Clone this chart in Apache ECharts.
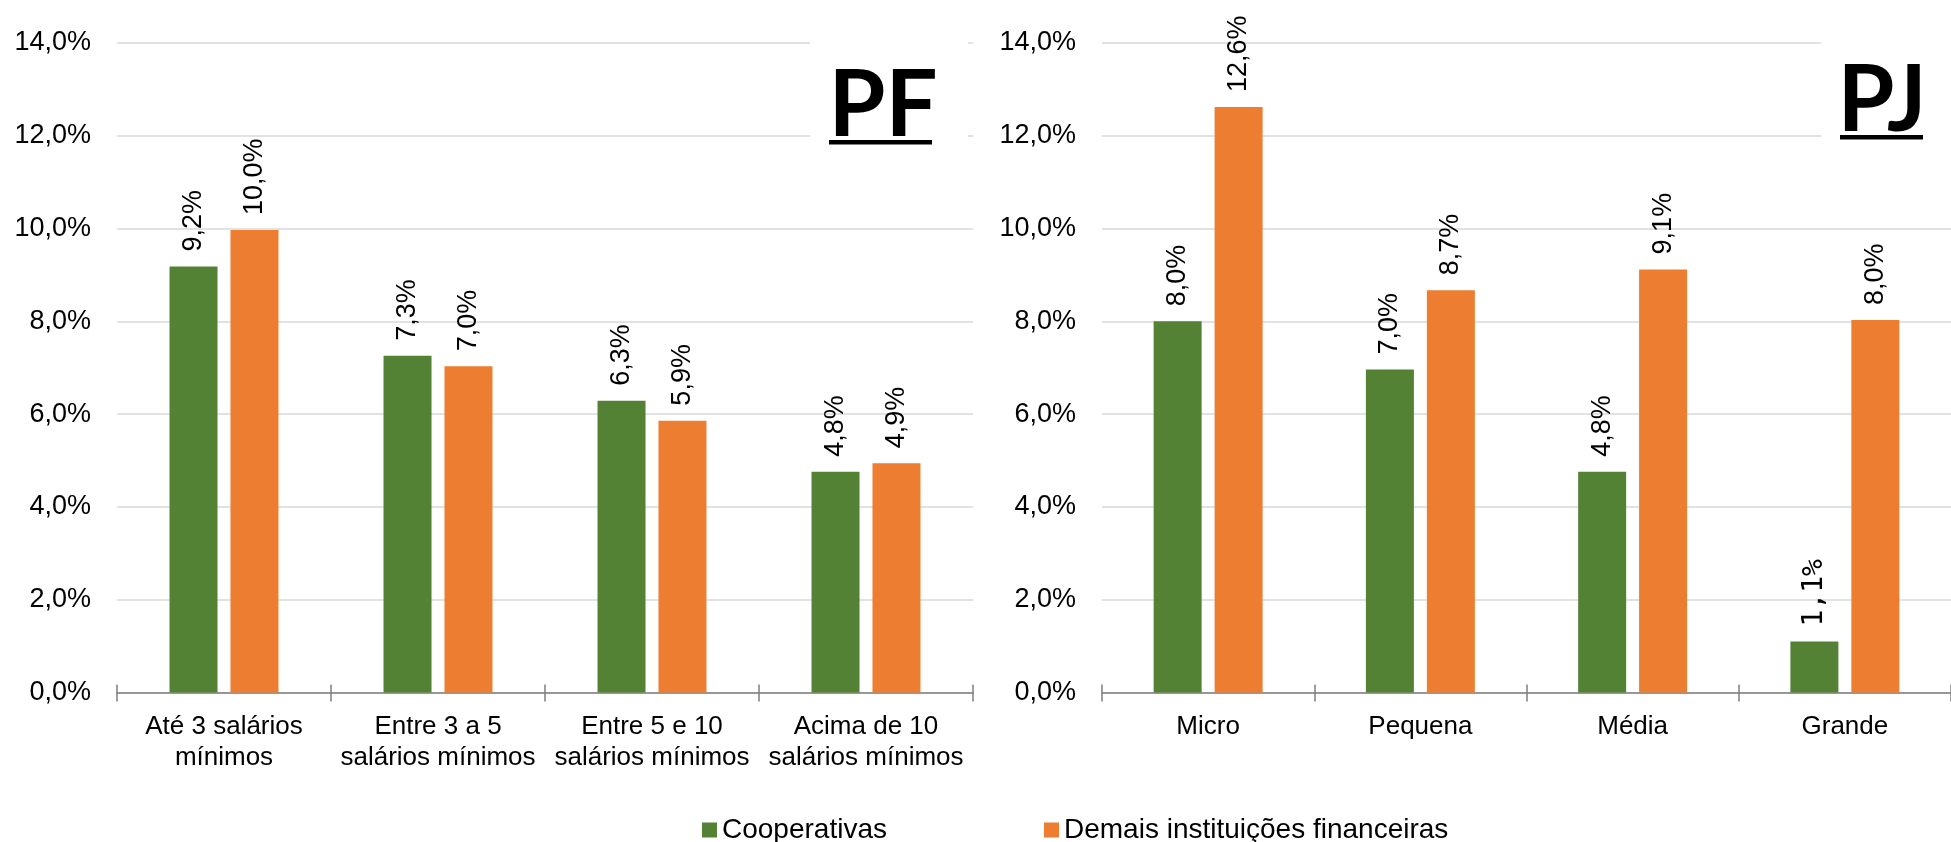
<!DOCTYPE html>
<html>
<head>
<meta charset="utf-8">
<script src="https://cdn.jsdelivr.net/npm/echarts@6/dist/echarts.min.js"></script>
<style>
  html, body { margin: 0; padding: 0; background: #fff; }
  #chart { width: 1951px; height: 842px; }
</style>
</head>
<body>
<div id="chart"></div>
<script>
const pfCategories = ['Até 3 salários\nmínimos', 'Entre 3 a 5\nsalários mínimos', 'Entre 5 e 10\nsalários mínimos', 'Acima de 10\nsalários mínimos'];
const pjCategories = ['Micro', 'Pequena', 'Média', 'Grande'];
const pfCooperativas = [9.18, 7.26, 6.29, 4.76];
const pfDemais = [9.97, 7.03, 5.86, 4.94];
const pjCooperativas = [8.0, 6.96, 4.76, 1.1];
const pjDemais = [12.62, 8.67, 9.12, 8.03];
const yTicks = { min: 0, max: 14, interval: 2 };

const GREEN = '#548235';
const ORANGE = '#ED7D31';
const FONT = '"Liberation Sans", Arial, sans-serif';

const chart = echarts.init(document.getElementById('chart'));

const pct = v => v.toFixed(1).replace('.', ',') + '%';

function barLabel() {
    return {
        show: true,
        position: 'top',
        rotate: 90,
        align: 'left',
        verticalAlign: 'middle',
        distance: 15,
        fontFamily: FONT,
        fontSize: 27,
        color: '#000',
        formatter: p => pct(p.value)
    };
}

function barSeries(name, data, axisIndex, color) {
    return {
        name: name,
        type: 'bar',
        xAxisIndex: axisIndex,
        yAxisIndex: axisIndex,
        data: data,
        barWidth: 48,
        barGap: '27%',
        itemStyle: { color: color },
        label: barLabel()
    };
}

function xAxisFor(gridIndex, data) {
    return {
        type: 'category',
        gridIndex: gridIndex,
        data: data,
        position: 'bottom',
        axisLine: { lineStyle: { color: '#7f7f7f', width: 1.5 } },
        axisTick: { show: true, length: 9, lineStyle: { color: '#7f7f7f', width: 1.5 } },
        axisLabel: {
            fontFamily: FONT, fontSize: 26, color: '#000',
            lineHeight: 31, margin: 19, interval: 0
        }
    };
}

// second axis on the same grid only to draw the upper half of the cross ticks
function innerTickAxis(gridIndex, data) {
    return {
        type: 'category',
        gridIndex: gridIndex,
        data: data,
        position: 'bottom',
        axisLine: { show: false },
        axisLabel: { show: false },
        axisTick: { show: true, inside: true, length: 8, lineStyle: { color: '#7f7f7f', width: 1.5 } }
    };
}

function yAxisFor(gridIndex) {
    return {
        type: 'value',
        gridIndex: gridIndex,
        min: yTicks.min,
        max: yTicks.max,
        interval: yTicks.interval,
        axisLine: { show: false },
        axisTick: { show: false },
        splitLine: { lineStyle: { color: '#d9d9d9', width: 1.5 } },
        axisLabel: {
            fontFamily: FONT, fontSize: 27, color: '#000', margin: 26,
            formatter: v => pct(v)
        }
    };
}

const pjSeriesCoop = barSeries('Cooperativas', pjCooperativas, 1, GREEN);
pjSeriesCoop.label.formatter = p => (p.dataIndex === 3 ? '{mono|' + pct(p.value) + '}' : pct(p.value));
pjSeriesCoop.label.rich = { mono: { fontFamily: '"DejaVu Sans Mono", monospace', fontSize: 28, color: '#000' } };

chart.setOption({
    backgroundColor: '#fff',
    animation: false,
    grid: [
        { left: 117, top: 43, width: 856, height: 649.5 },
        { left: 1102, top: 43, width: 856, height: 649.5 }
    ],
    xAxis: [xAxisFor(0, pfCategories), xAxisFor(1, pjCategories), innerTickAxis(0, pfCategories), innerTickAxis(1, pjCategories)],
    yAxis: [yAxisFor(0), yAxisFor(1)],
    legend: {
        data: ['Cooperativas', 'Demais instituições financeiras'],
        left: 697,
        top: 810,
        itemWidth: 15,
        itemHeight: 15,
        itemGap: 157,
        icon: 'rect',
        textStyle: { fontFamily: FONT, fontSize: 28, color: '#000', lineHeight: 30 }
    },
    graphic: [
        { type: 'rect', z: 100, shape: { x: 810, y: 25, width: 158, height: 140 }, style: { fill: '#fff' } },
        { type: 'text', z: 101, x: 883, y: 106,
          style: { text: 'PF', fontFamily: 'Lato, sans-serif', fontWeight: 'bold', fontSize: 92, fill: '#000', align: 'center', verticalAlign: 'middle' } },
        { type: 'rect', z: 101, shape: { x: 829, y: 140, width: 103, height: 4.5 }, style: { fill: '#000' } },
        { type: 'rect', z: 100, shape: { x: 1821, y: 25, width: 140, height: 140 }, style: { fill: '#fff' } },
        { type: 'text', z: 101, x: 1882, y: 101,
          style: { text: 'PJ', fontFamily: 'Lato, sans-serif', fontWeight: 'bold', fontSize: 92, fill: '#000', align: 'center', verticalAlign: 'middle' } },
        { type: 'rect', z: 101, shape: { x: 1840, y: 135, width: 83, height: 4.5 }, style: { fill: '#000' } }
    ],
    series: [
        barSeries('Cooperativas', pfCooperativas, 0, GREEN),
        barSeries('Demais instituições financeiras', pfDemais, 0, ORANGE),
        pjSeriesCoop,
        barSeries('Demais instituições financeiras', pjDemais, 1, ORANGE)
    ]
});
</script>
</body>
</html>
